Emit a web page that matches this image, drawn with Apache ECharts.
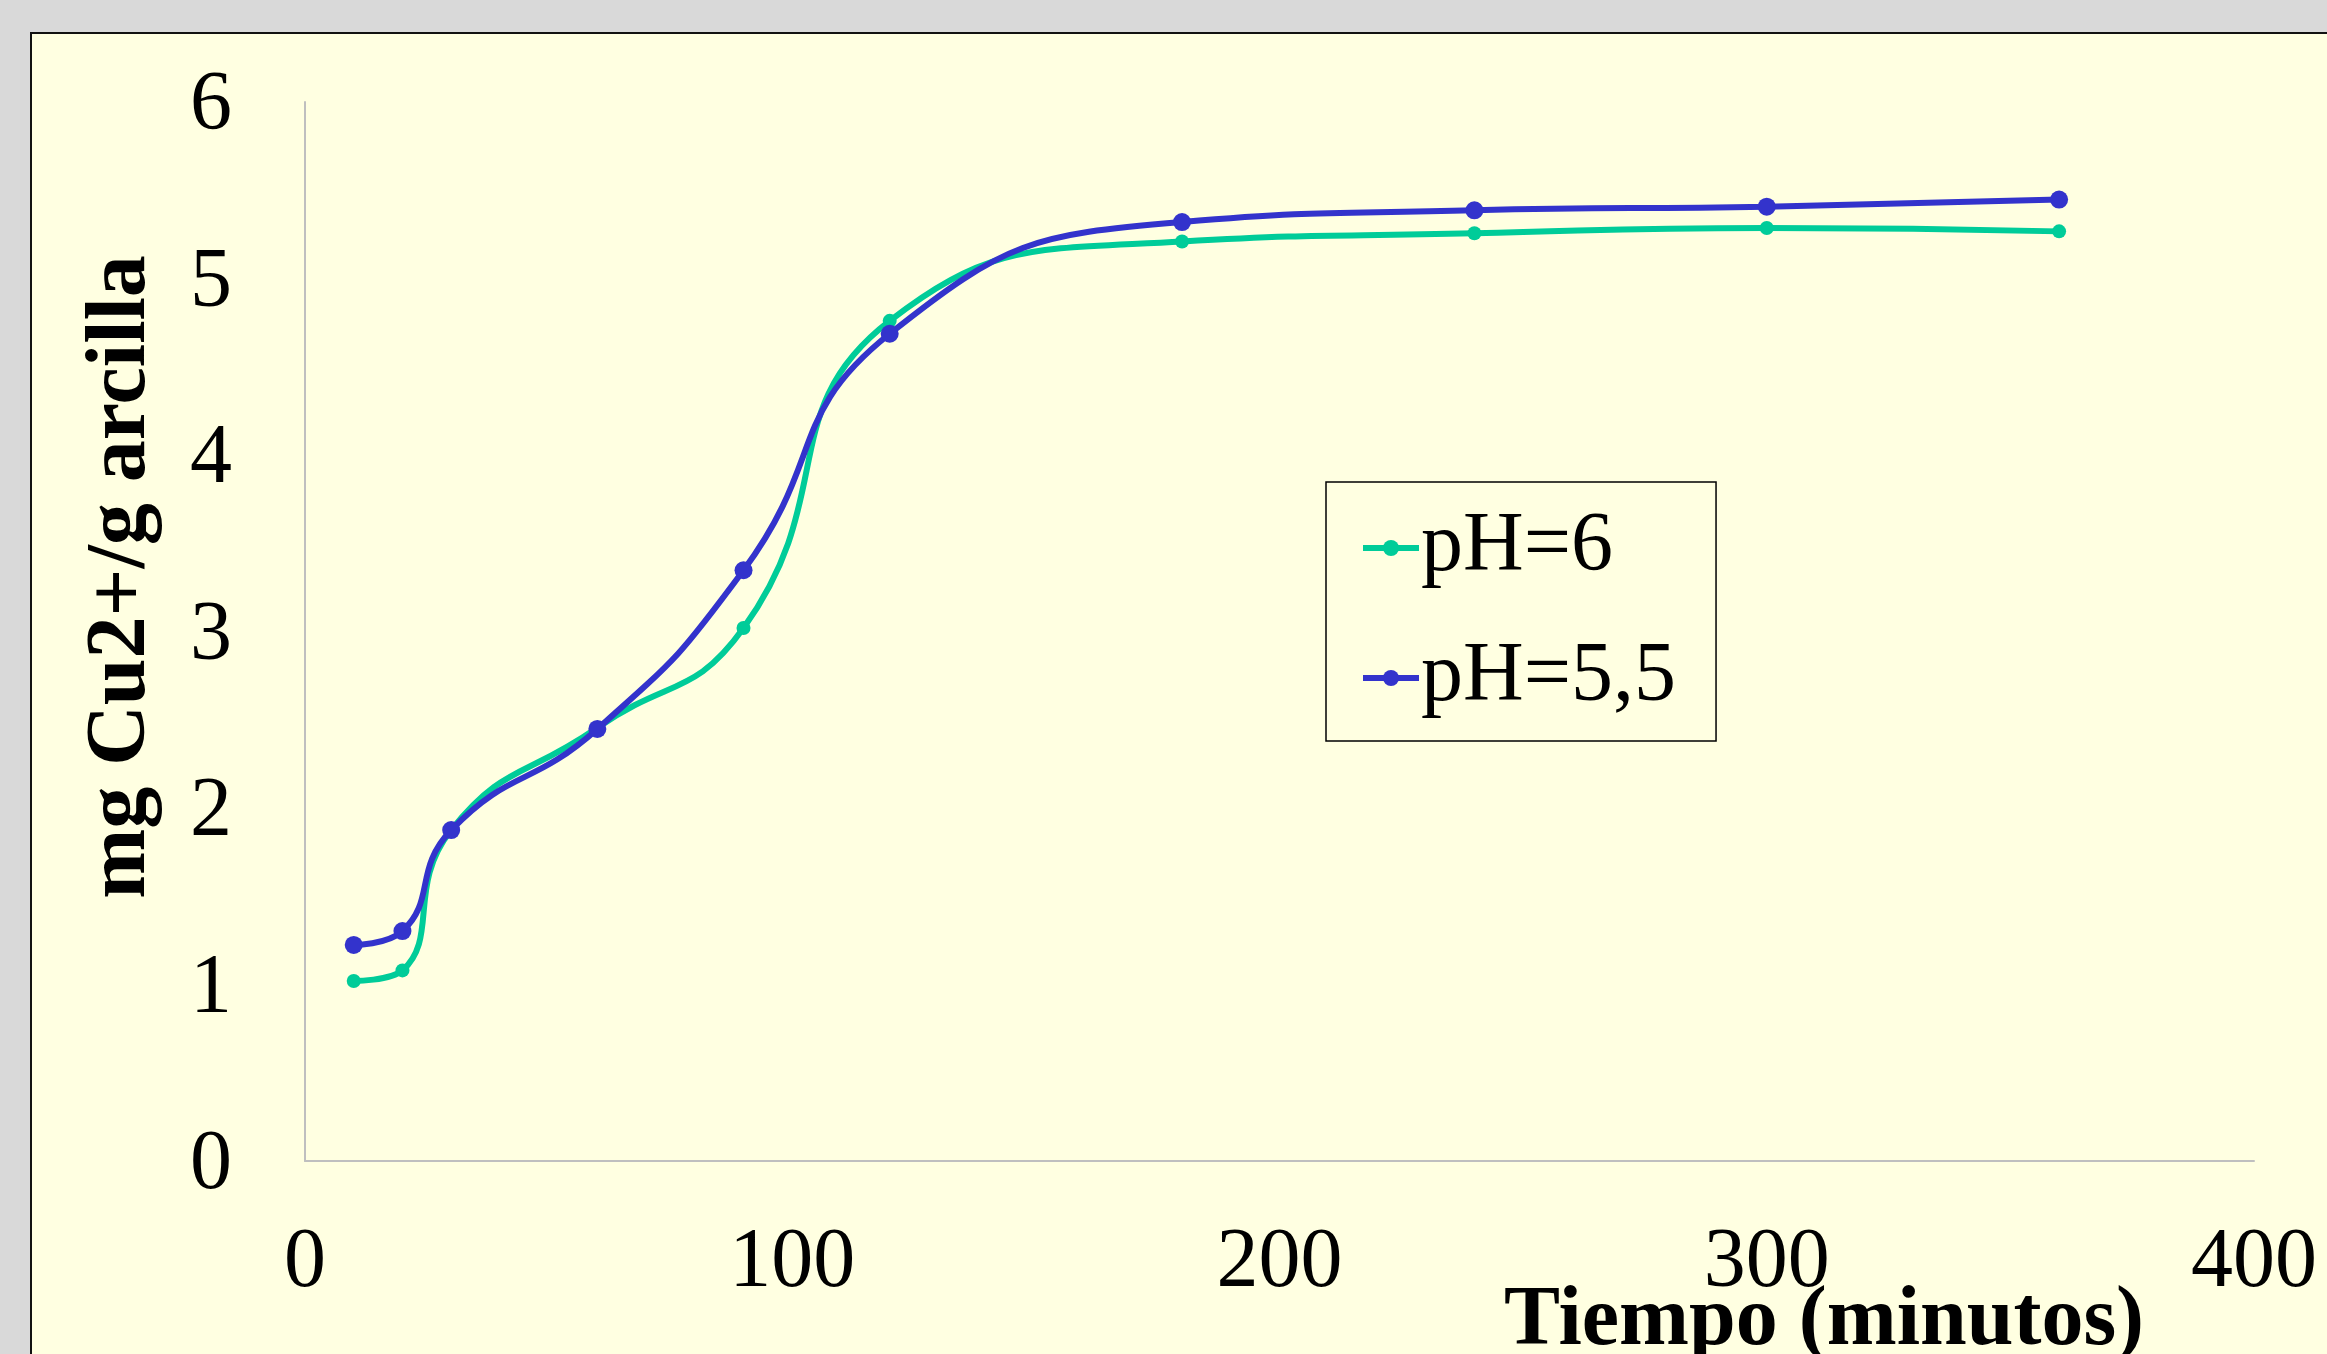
<!DOCTYPE html>
<html>
<head>
<meta charset="utf-8">
<script src="https://cdn.jsdelivr.net/npm/echarts@6/dist/echarts.min.js"></script>
<style>
  html, body { margin: 0; padding: 0; width: 2327px; height: 1354px; overflow: hidden; background: #D9D9D9; }
  #frame { position: absolute; left: 30px; top: 32px; width: 2400px; height: 1400px; box-sizing: border-box;
           border: 2px solid #111; background: #FFFFE1; }
  #chart { position: absolute; left: 0; top: 0; width: 2327px; height: 1354px; }
</style>
</head>
<body>
<div id="frame"></div>
<div id="chart"></div>
<script>
// Data
const times = [10, 20, 30, 60, 90, 120, 180, 240, 300, 360];
const ph6 = [1.02, 1.08, 1.875, 2.455, 3.02, 4.76, 5.21, 5.256, 5.286, 5.267];
const ph55 = [1.224, 1.303, 1.875, 2.448, 3.347, 4.687, 5.32, 5.386, 5.407, 5.447];
const seriesNames = ['pH=6', 'pH=5,5'];
const xTitle = 'Tiempo (minutos)';
const yTitle = 'mg Cu2+/g arcilla';

const FONT = "'Liberation Serif', 'Times New Roman', Times, serif";
const GREEN = '#00CC99';
const BLUE = '#3333CC';

const chart = echarts.init(document.getElementById('chart'));
chart.setOption({
  backgroundColor: 'transparent',
  animation: false,
  grid: { left: 305, right: 73, top: 102, bottom: 193, containLabel: false },
  xAxis: {
    type: 'value', min: 0, max: 400, interval: 100,
    axisLine: { show: true, lineStyle: { color: '#BFBFBF', width: 2 } },
    axisTick: { show: false },
    splitLine: { show: false },
    axisLabel: { fontFamily: FONT, fontSize: 84, color: '#000', margin: 61 }
  },
  yAxis: {
    type: 'value', min: 0, max: 6, interval: 1,
    axisLine: { show: true, lineStyle: { color: '#BFBFBF', width: 2 } },
    axisTick: { show: false },
    splitLine: { show: false },
    axisLabel: {
      margin: 73,
      formatter: '{v|{value}}',
      rich: { v: { fontFamily: FONT, fontSize: 84, color: '#000', padding: [10, 0, 0, 0] } }
    }
  },
  legend: {
    orient: 'vertical',
    left: 1326, top: 482,
    padding: [24, 40, 21, 34],
    itemWidth: 56, itemHeight: 20, itemGap: 46,
    borderColor: '#000', borderWidth: 1.5,
    backgroundColor: 'transparent',
    lineStyle: { width: 6 },
    textStyle: { fontFamily: FONT, fontSize: 84, color: '#000', padding: [0, 0, 0, -3] },
    data: seriesNames
  },
  graphic: [
    {
      type: 'text', x: 122, y: 577, rotation: Math.PI / 2,
      style: { text: yTitle, font: 'bold 84px ' + FONT, fill: '#000', align: 'center', verticalAlign: 'middle' }
    },
    {
      type: 'text', x: 1824, y: 1322,
      style: { text: xTitle, font: 'bold 84px ' + FONT, fill: '#000', align: 'center', verticalAlign: 'middle' }
    }
  ],
  series: [
    {
      name: seriesNames[0], type: 'line', smooth: 0.5,
      data: times.map((t, i) => [t, ph6[i]]),
      symbol: 'circle', symbolSize: 14,
      lineStyle: { color: GREEN, width: 6 },
      itemStyle: { color: GREEN }
    },
    {
      name: seriesNames[1], type: 'line', smooth: 0.5,
      data: times.map((t, i) => [t, ph55[i]]),
      symbol: 'circle', symbolSize: 18,
      lineStyle: { color: BLUE, width: 6 },
      itemStyle: { color: BLUE }
    }
  ]
});
</script>
</body>
</html>
